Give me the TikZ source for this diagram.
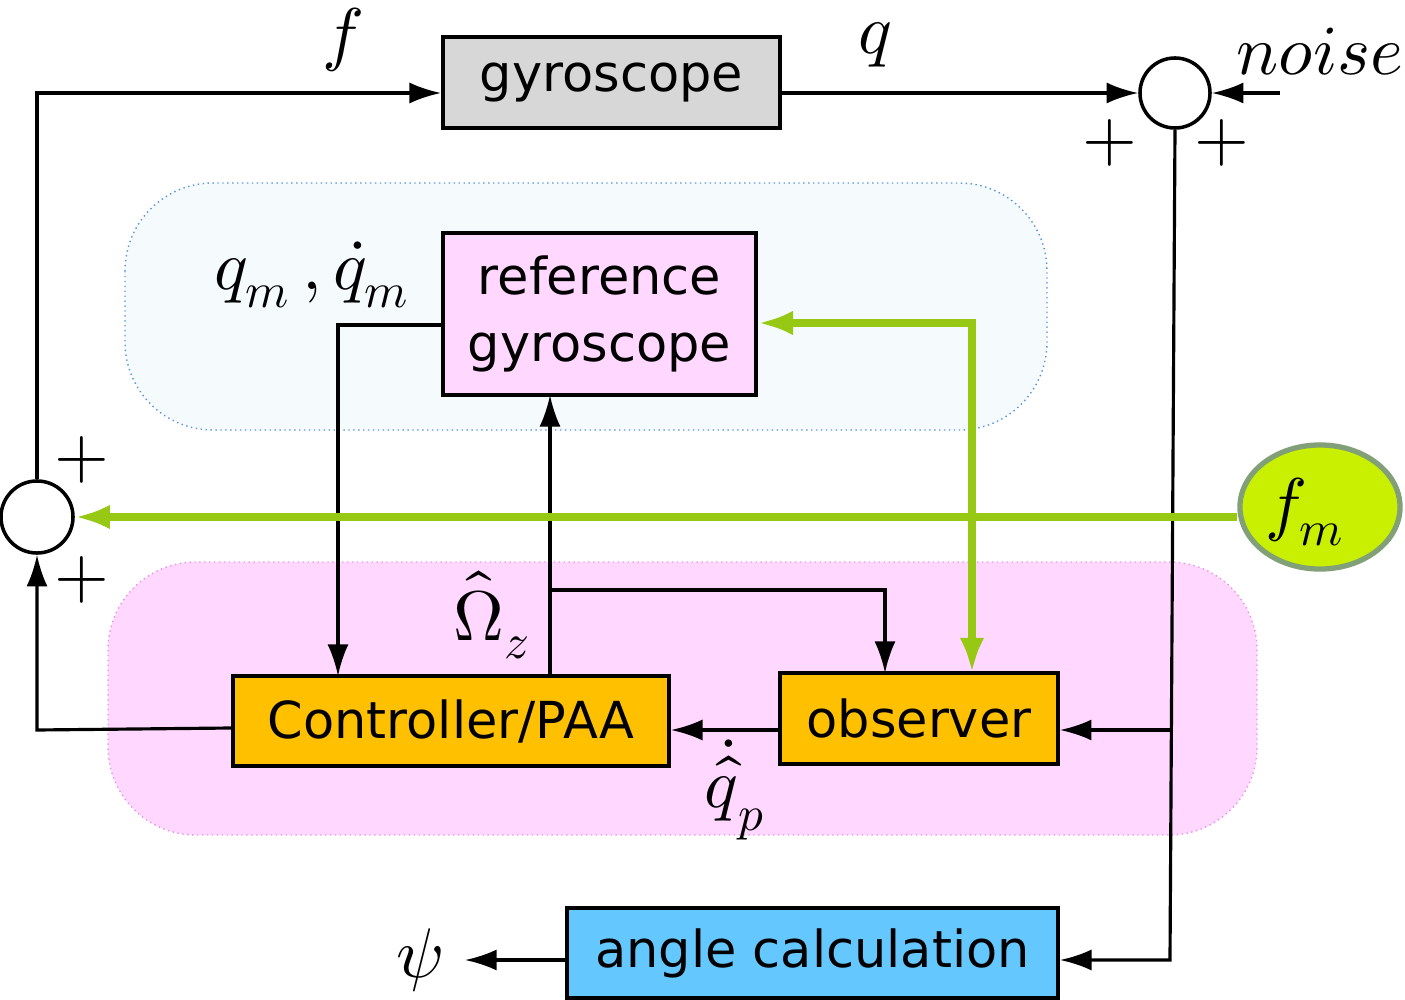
\documentclass[tikz,border=0pt]{standalone}
\usepackage{fontspec}
\setmainfont{DejaVu Sans}
\usepackage{unicode-math}
\setmathfont{Latin Modern Math}
\usetikzlibrary{arrows.meta,shapes.geometric}
\begin{document}
\begin{tikzpicture}[x=0.01cm,y=-0.01cm,
  box/.style={draw,line width=1pt,inner sep=0pt,font=\fontsize{14.5}{17}\selectfont},
  ar/.style={-{Latex[length=9pt,width=6pt]},line width=0.9pt},
  gr/.style={line width=2pt,draw={rgb,255:red,150;green,200;blue,20}},
  lab/.style={font=\fontsize{20}{22}\selectfont,inner sep=1pt},
  pl/.style={font=\fontsize{20}{22}\selectfont,inner sep=1pt}]
\useasboundingbox (0,0) rectangle (1405,1000);
% regions
\draw[rounded corners=25pt,densely dotted,draw={rgb,255:red,90;green,150;blue,220},fill={rgb,255:red,245;green,250;blue,252}] (125,183) rectangle (1047,430);
\draw[rounded corners=25pt,densely dotted,draw={rgb,255:red,230;green,150;blue,230},fill={rgb,255:red,255;green,215;blue,255}] (108,562) rectangle (1257,835);
% boxes
\node[box,fill={rgb,255:red,215;green,215;blue,215},minimum width=3.37cm,minimum height=0.91cm] (gyro) at (611.5,82.5) {gyroscope};
\node[box,fill={rgb,255:red,255;green,215;blue,255},minimum width=3.13cm,minimum height=1.62cm,align=center] (ref) at (599.5,314) {reference\\[2pt]gyroscope};
\node[box,fill={rgb,255:red,255;green,192;blue,0},minimum width=4.36cm,minimum height=0.9cm] (ctrl) at (451,721) {Controller/PAA};
\node[box,fill={rgb,255:red,255;green,192;blue,0},minimum width=2.78cm,minimum height=0.91cm] (obs) at (919,718.5) {observer};
\node[box,fill={rgb,255:red,100;green,200;blue,255},minimum width=4.91cm,minimum height=0.9cm] (ang) at (812.5,953) {angle calculation};
% circles
\node[draw,circle,line width=1pt,minimum size=0.7cm,inner sep=0pt] (s1) at (1175,93) {};
\node[draw,circle,line width=1pt,minimum size=0.72cm,inner sep=0pt] (s2) at (37,517) {};
\node[draw={rgb,255:red,130;green,160;blue,120},line width=1.5pt,ellipse,fill={rgb,255:red,200;green,240;blue,0},minimum width=1.6cm,minimum height=1.24cm] (fm) at (1320,507) {};
\node[lab] at (1305,512) {$f_m$};
% labels
\node[lab] (lf) at (343,40) {$f$};
\node[lab] (lq) at (875,45) {$q$};
\node[lab] (ln) at (1320,52) {$noise$};
\node[lab] (lqm) at (312,275) {$q_m\,,\dot q_m$};
\node[lab] (lom) at (492,615) {$\hat\Omega_z$};
\node[lab] (lqp) at (735,790) {$\dot{\hat q}_p$};
\node[lab] (lpsi) at (420,960) {$\psi$};
\node[pl] at (1110,143) {$+$};
\node[pl] at (1222,143) {$+$};
\node[pl] at (82,460) {$+$};
\node[pl] at (82,580) {$+$};
% connectors
\coordinate (nz) at (1280,93);
\coordinate (lpa) at (465,960);
\draw[ar] (s2.north) -- (37,93) -- (gyro.west |- s1);
\draw[ar] (gyro.east |- s1) -- (s1.west);
\draw[ar] (nz) -- (s1.east);
\draw[ar] (s1.south) -- (1170,960) -- (ang.east |- 0,960);
\draw[ar] (1170,730) -- (obs.east |- 0,730);
\draw[ar] (ang.west |- 0,960) -- (lpa);
\draw[ar] (ref.west |- 0,325) -- (338,325) -- (338,676);
\draw[ar] (ctrl.west |- 0,728) -- (37,730) -- (s2.south);
\draw[ar] (550,676) -- (550,395);
\draw[ar] (550,590) -- (885,590) -- (885,673);
\draw[ar] (obs.west |- 0,730) -- (ctrl.east |- 0,730);
\draw[gr,-{Latex[length=10pt,width=7pt]}] (fm.west |- s2) -- (s2.east);
\draw[gr,{Latex[length=10pt,width=7pt]}-{Latex[length=10pt,width=7pt]}] (972,673) -- (972,323) -- (ref.east |- 0,323);
\end{tikzpicture}
\end{document}
